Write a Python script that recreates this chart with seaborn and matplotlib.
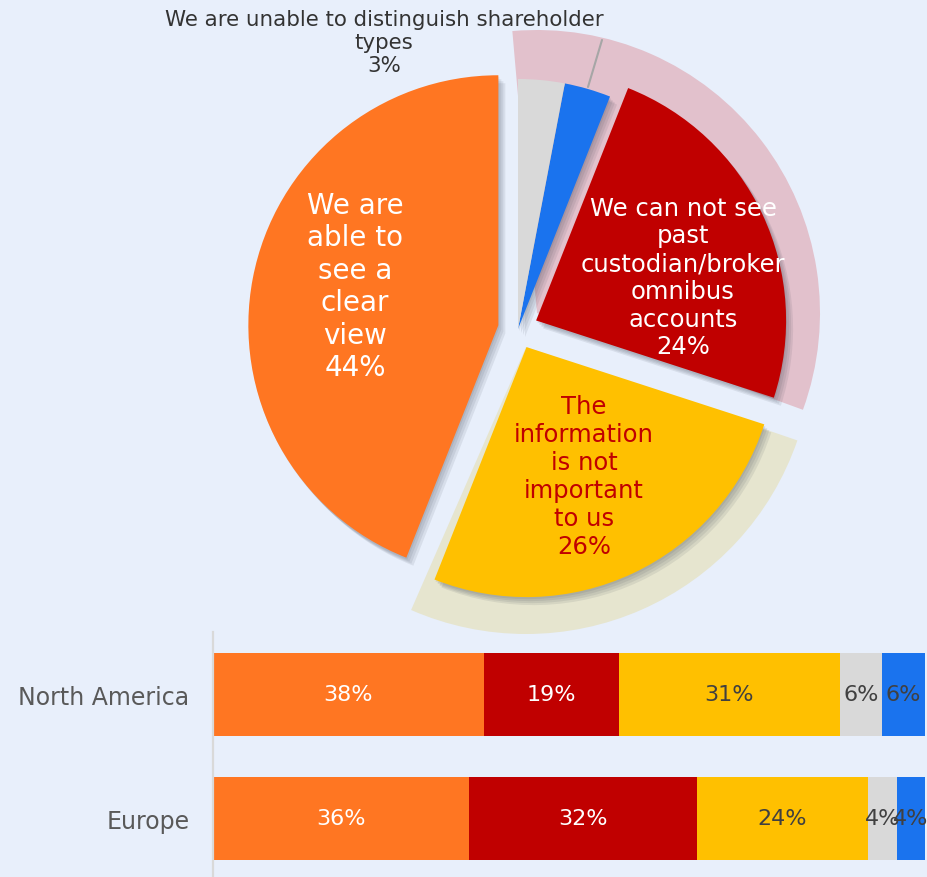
import numpy as np
import matplotlib
matplotlib.use("Agg")
import matplotlib.pyplot as plt
from matplotlib.patches import Wedge
import seaborn as sns

# ---------------- data ----------------
pie_labels = [
    "We are\nable to\nsee a\nclear\nview",
    "The\ninformation\nis not\nimportant\nto us",
    "We can not see\npast\ncustodian/broker\nomnibus\naccounts",
    "",
    "We are unable to distinguish shareholder\ntypes",
]
pie_values = [44, 26, 24, 3, 3]

regions = ["North America", "Europe"]
na_values = [38, 19, 31, 6, 6]
eu_values = [36, 32, 24, 4, 4]

# ---------------- styles ----------------
BG = "#e8effb"
ORANGE, YELLOW, RED, BLUE, GRAY = "#ff7622", "#ffc000", "#c00000", "#1a73ee", "#d9d9d9"
pie_colors = [ORANGE, YELLOW, RED, BLUE, GRAY]
pie_text_colors = ["white", "#c00000", "white", None, "#333333"]
pie_text_sizes = [20, 17.5, 17.5, 0, 15.4]
pie_text_pos = [(355, 591), (584, 401), (683, 600), None, (384, 835)]
explode = [20, 20, 20, 0, 0]
seg_colors = [ORANGE, RED, YELLOW, GRAY, BLUE]
seg_text_colors = ["white", "white", "#404040", "#404040", "#404040"]

sns.set_style("white", {"axes.facecolor": BG, "figure.facecolor": BG})
plt.rcParams["font.family"] = ["DejaVu Sans"]

W, H = 927, 878
fig = plt.figure(figsize=(W / 100, H / 100), dpi=100, facecolor=BG)

# ---------------- pie ----------------
ax = fig.add_axes([0, 0, 1, 1])
ax.set_facecolor("none")
C0 = (518, 548)
R = 250

# decorative group rings behind the slices (angles from the data)
total = sum(pie_values)
cum = np.cumsum([0] + pie_values) / total * 360 + 90
ax.add_patch(Wedge((537, 564), 283, cum[2] - 2, cum[5] + 5,
                   facecolor="#e2c1cc", edgecolor="none", zorder=1))
ax.add_patch(Wedge((526, 530), 287, cum[1] - 2, cum[2] - 1,
                   facecolor="#e6e5cf", edgecolor="none", zorder=1))
ax.plot([602, 588], [H - 41, H - 88], color="#a6a6a6", lw=1.5, zorder=1.5)

# shadows
for dx, dy in [(1, -2), (3, -4), (5, -6), (7, -8)]:
    ax.pie(pie_values, explode=explode, radius=R, startangle=90,
           counterclock=True, center=(C0[0] + dx, C0[1] + dy),
           colors=["#2c3444"] * 5,
           wedgeprops=dict(alpha=0.09, linewidth=0, zorder=2))

ax.pie(pie_values, explode=explode, radius=R, startangle=90, counterclock=True,
       center=C0, colors=pie_colors, wedgeprops=dict(linewidth=0, zorder=3))

for lab, v, col, fs, pos in zip(pie_labels, pie_values, pie_text_colors,
                                 pie_text_sizes, pie_text_pos):
    if not lab:
        continue
    ax.text(pos[0], pos[1], f"{lab}\n{v}%", ha="center", va="center",
            color=col, fontsize=fs, linespacing=1.2, zorder=5)

ax.set_xlim(0, W)
ax.set_ylim(0, H)
ax.set_aspect("equal")
ax.axis("off")

# ---------------- stacked bars ----------------
axb = fig.add_axes([213 / W, 0, 712 / W, 245 / H])
axb.set_facecolor("none")
seg_vals = np.array([na_values, eu_values])  # rows: regions
cums = np.cumsum(seg_vals, axis=1)
for i in reversed(range(seg_vals.shape[1])):
    sns.barplot(x=cums[:, i], y=regions, color=seg_colors[i], orient="h",
                width=0.67, saturation=1, ax=axb, linewidth=0)
for r in range(len(regions)):
    for i in range(seg_vals.shape[1]):
        center = cums[r, i] - seg_vals[r, i] / 2
        axb.text(center, r, f"{seg_vals[r, i]}%", ha="center", va="center",
                 color=seg_text_colors[i], fontsize=16)

axb.set_xlim(0, 100)
axb.set_ylim(1.472, -0.504)
axb.set_xlabel("")
axb.set_ylabel("")
axb.set_xticks([])
axb.tick_params(axis="y", length=0, pad=17, labelsize=17, labelcolor="#595959")
for s in ["top", "right", "bottom"]:
    axb.spines[s].set_visible(False)
axb.spines["left"].set_color("#d9d9d9")
axb.spines["left"].set_linewidth(1.6)

fig.savefig("out.png", dpi=100, facecolor=BG)
